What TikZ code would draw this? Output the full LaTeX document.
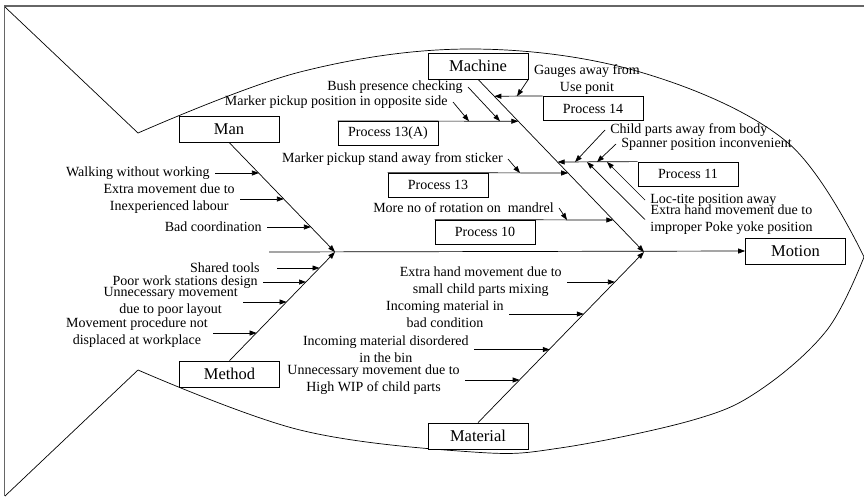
\documentclass[tikz,border=0pt]{standalone}
\usepackage{fontspec}
\setmainfont{Liberation Serif}
\usetikzlibrary{arrows.meta}
\begin{document}
\begin{tikzpicture}[x=1pt,y=-1pt,
  line width=0.7pt,
  cat/.style={draw, minimum width=100pt, minimum height=26pt, inner sep=0pt,
    font=\fontsize{16.5}{18}\selectfont},
  proc/.style={draw, minimum width=100pt, minimum height=24.5pt, inner sep=0pt,
    font=\fontsize{14}{17}\selectfont},
  lbl/.style={inner xsep=5pt, inner ysep=0pt, align=center,
    font=\fontsize{14}{17}\selectfont},
  arr/.style={-{Triangle[length=7pt,width=5pt]}},
  outline/.style={line width=0.7pt}]
\useasboundingbox (0,0) rectangle (864,496);

% frame
\draw[gray!80!black, line width=1.3pt] (4.5,496) -- (4.5,6) -- (864,6);

% fish outline
\draw[outline] (5,7) -- (138,133);
\draw[outline] plot[smooth, tension=0.6] coordinates
  {(138,133) (300,72) (470,49) (640,72) (787,142) (864,257)};
\draw[outline] plot[smooth, tension=0.6] coordinates
  {(864,257) (827,330) (760,390) (693,420) (560,448) (473,452) (300,430) (138,370)};
\draw[outline] (138,370) -- (5,496);

% category boxes
\node[cat, fill=white] (man)      at (229,129)   {Man};
\node[cat, fill=white] (method)   at (229.5,374) {Method};
\node[cat, fill=white] (machine)  at (478,66)    {Machine};
\node[cat, fill=white] (material) at (478,436)   {Material};
\node[cat] (motion)   at (795.5,251) {Motion};

% process boxes
\node[proc] (p14)  at (593,108.5)   {Process 14};
\node[proc] (p13a) at (388,133.5)   {Process 13(A)};
\node[proc] (p13)  at (438,185.2)   {Process 13};
\node[proc] (p10)  at (485,232.2)   {Process 10};
\node[proc] (p11)  at (688,174.2)   {Process 11};

% spine and main bones
\coordinate (sp) at (269,252);
\coordinate (jl) at (335,252);
\coordinate (jr) at (644,252);
\draw[arr] (sp) -- (motion.west);
\draw[arr] (man.south) -- (jl);
\draw[arr] (method.north) -- (jl);
\draw[arr] (machine.south) -- (jr);
\draw[arr] (material.north) -- (jr);

% ---- Machine side ----
\coordinate (k14)  at (494.3,96.25);
\coordinate (k13a) at (518.3,121.25);
\coordinate (k13)  at (568.2,173);
\coordinate (k10)  at (613.3,220);
\coordinate (k11)  at (557.6,162);
\draw[arr] (p14.north west)  -- (k14);
\draw[arr] (p13a.north west) -- (k13a);
\draw[arr] (p13.north west)  -- (k13);
\draw[arr] (p10.north west)  -- (k10);
\draw[arr] (p11.north west)  -- (k11);

\node[lbl] (gauge) at (587,79.5) {Gauges away from\\Use ponit};
\coordinate (g14) at (517,96.25);
\draw[arr] (machine.south east) -- (g14);

\node[lbl, anchor=east] (bush) at (468,87) {Bush presence checking};
\coordinate (b13a) at (500,121.25);
\draw[arr] (bush.east) -- (b13a);

\node[lbl, anchor=east] (mpos) at (453,102) {Marker pickup position in opposite side};
\coordinate (a13a) at (469,121.25);
\draw[arr] (mpos.east) -- (a13a);

\node[lbl, anchor=east] (mstand) at (508,159) {Marker pickup stand away from sticker};
\coordinate (a13) at (520,173);
\draw[arr] (mstand.east) -- (a13);

\node[lbl, anchor=east] (rot) at (559,208) {More no of rotation on\ \ mandrel};
\coordinate (a10) at (567,220);
\draw[arr] (rot.east) -- (a10);

\node[lbl, anchor=west] (child) at (605,130) {Child parts away from body};
\coordinate (c11) at (575,162);
\draw[arr] (child.west) -- (c11);

\node[lbl, anchor=west] (span) at (616,144) {Spanner position inconvenient};
\coordinate (s11) at (597,162);
\draw[arr] (span.west) -- (s11);

\node[lbl, anchor=west] (loc) at (645,200) {Loc-tite position away};
\coordinate (l11) at (607,162);
\draw[arr] (loc.west) -- (l11);

\node[lbl, anchor=west] (poke) at (645,219.5) {Extra hand movement due to\\improper Poke yoke position};
\coordinate (e11) at (587,162);
\draw[arr] (poke.west) -- (e11);

% ---- Man side ----
\node[lbl, anchor=east] (w1) at (215,173) {Walking without working};
\coordinate (m1) at (258.9,173);
\draw[arr] (w1.east) -- (m1);

\node[lbl, anchor=east] (w2) at (240,199) {Extra movement due to\\Inexperienced labour};
\coordinate (m2) at (283.9,199);
\draw[arr] (w2.east) -- (m2);

\node[lbl, anchor=east] (w3) at (267,227) {Bad coordination};
\coordinate (m3) at (310.9,227);
\draw[arr] (w3.east) -- (m3);

% ---- Method side ----
\node[lbl, anchor=east] (s1) at (265,268) {Shared tools};
\coordinate (n1) at (319.5,268);
\draw[arr] ([xshift=12pt]s1.east) -- (n1);

\node[lbl, anchor=east] (s2) at (263,282) {Poor work stations design};
\coordinate (n2) at (306,282);
\draw[arr] (s2.east) -- (n2);

\node[lbl, anchor=east] (s3) at (243,302) {Unnecessary movement\\due to poor layout};
\coordinate (n3) at (286.6,302);
\draw[arr] (s3.east) -- (n3);

\node[lbl, anchor=east] (s4) at (213,333) {Movement procedure not\\displaced at workplace};
\coordinate (n4) at (256.6,333);
\draw[arr] (s4.east) -- (n4);

% ---- Material side ----
\node[lbl, anchor=east] (x1) at (567,282) {Extra hand movement due to\\small child parts mixing};
\coordinate (r1) at (614.9,282);
\draw[arr] (x1.east) -- (r1);

\node[lbl, anchor=east] (x2) at (509,314) {Incoming material in\\bad condition};
\coordinate (r2) at (583.8,314);
\draw[arr] (x2.east) -- (r2);

\node[lbl, anchor=east] (x3) at (474,349.5) {Incoming material disordered\\in the bin};
\coordinate (r3) at (549.8,349.5);
\draw[arr] (x3.east) -- (r3);

\node[lbl, anchor=east] (x4) at (465,380) {Unnecessary movement due to\\High WIP of child parts};
\coordinate (r4) at (519.7,380);
\draw[arr] (x4.east) -- (r4);
\end{tikzpicture}
\end{document}
